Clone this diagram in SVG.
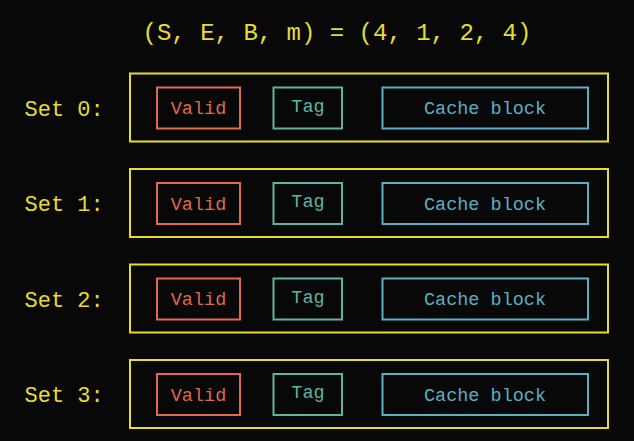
<svg xmlns="http://www.w3.org/2000/svg" width="634" height="441" viewBox="0 0 634 441">
<style>
text{font-family:"Liberation Mono","DejaVu Sans Mono",monospace}
.set{fill:none;stroke:#e6de2e;stroke-width:2}
.valid{fill:none;stroke:#df6a4e;stroke-width:2}
.tag{fill:none;stroke:#5fb3a1;stroke-width:2}
.blk{fill:none;stroke:#5aaec6;stroke-width:2}
.lbl{fill:#e6de2e;font-size:22px}
.tv{fill:#df6a4e;font-size:18.5px;text-anchor:middle}
.tt{fill:#5fb3a1;font-size:18.5px;text-anchor:middle}
.tb{fill:#5aaec6;font-size:18.5px;text-anchor:middle}
</style>
<rect width="634" height="441" fill="#080808"/>
<text x="337" y="40" fill="#e6de2e" font-size="24" text-anchor="middle">(S, E, B, m) = (4, 1, 2, 4)</text>
<g id="set0" transform="translate(0,0)">
<text class="lbl" x="24.5" y="115.5">Set 0:</text>
<rect class="set" x="130" y="73.5" width="478" height="68"/>
<rect class="valid" x="157" y="87.5" width="83" height="41"/>
<rect class="tag" x="273.5" y="87.5" width="68.5" height="41"/>
<rect class="blk" x="382.5" y="87.5" width="205.5" height="41"/>
<text class="tv" x="198.5" y="114">Valid</text>
<text class="tt" x="308" y="111.5">Tag</text>
<text class="tb" x="485" y="114">Cache block</text>
</g>
<g id="set1" transform="translate(0,95.5)">
<text class="lbl" x="24.5" y="115.5">Set 1:</text>
<rect class="set" x="130" y="73.5" width="478" height="68"/>
<rect class="valid" x="157" y="87.5" width="83" height="41"/>
<rect class="tag" x="273.5" y="87.5" width="68.5" height="41"/>
<rect class="blk" x="382.5" y="87.5" width="205.5" height="41"/>
<text class="tv" x="198.5" y="114">Valid</text>
<text class="tt" x="308" y="111.5">Tag</text>
<text class="tb" x="485" y="114">Cache block</text>
</g>
<g id="set2" transform="translate(0,191)">
<text class="lbl" x="24.5" y="115.5">Set 2:</text>
<rect class="set" x="130" y="73.5" width="478" height="68"/>
<rect class="valid" x="157" y="87.5" width="83" height="41"/>
<rect class="tag" x="273.5" y="87.5" width="68.5" height="41"/>
<rect class="blk" x="382.5" y="87.5" width="205.5" height="41"/>
<text class="tv" x="198.5" y="114">Valid</text>
<text class="tt" x="308" y="111.5">Tag</text>
<text class="tb" x="485" y="114">Cache block</text>
</g>
<g id="set3" transform="translate(0,286.5)">
<text class="lbl" x="24.5" y="115.5">Set 3:</text>
<rect class="set" x="130" y="73.5" width="478" height="68"/>
<rect class="valid" x="157" y="87.5" width="83" height="41"/>
<rect class="tag" x="273.5" y="87.5" width="68.5" height="41"/>
<rect class="blk" x="382.5" y="87.5" width="205.5" height="41"/>
<text class="tv" x="198.5" y="114">Valid</text>
<text class="tt" x="308" y="111.5">Tag</text>
<text class="tb" x="485" y="114">Cache block</text>
</g>
<g id="connectors"></g>
</svg>
